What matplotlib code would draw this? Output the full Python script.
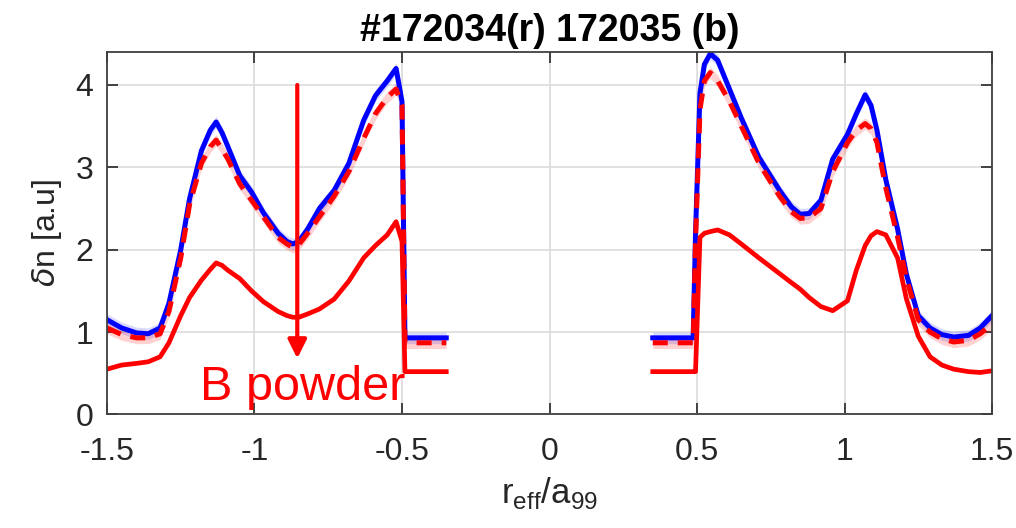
import numpy as np
import matplotlib
matplotlib.use('Agg')
import matplotlib.pyplot as plt

plt.rcParams['font.family'] = ['Liberation Sans', 'DejaVu Sans']
plt.rcParams['mathtext.fontset'] = 'custom'
plt.rcParams['mathtext.rm'] = 'Liberation Sans'

# left side of the profile (r_eff/a99 < 0)
r_left = [-1.5, -1.45, -1.40, -1.36, -1.32, -1.29, -1.25, -1.22, -1.18, -1.15,
          -1.13, -1.11, -1.09, -1.05, -1.01, -0.97, -0.92, -0.89, -0.87, -0.85,
          -0.82, -0.78, -0.73, -0.68, -0.63, -0.59, -0.55, -0.52, -0.50, -0.49,
          -0.42, -0.35]
blue_left = [1.15, 1.05, 0.99, 0.98, 1.05, 1.35, 2.0, 2.62, 3.2, 3.45,
             3.55, 3.42, 3.25, 2.9, 2.7, 2.45, 2.2, 2.1, 2.07, 2.1,
             2.25, 2.5, 2.72, 3.05, 3.57, 3.87, 4.05, 4.2, 3.8, 0.93,
             0.93, 0.93]
red_dash_left = [1.05, 0.97, 0.93, 0.93, 0.98, 1.25, 1.9, 2.55, 3.05, 3.25,
                 3.33, 3.22, 3.1, 2.8, 2.6, 2.4, 2.15, 2.07, 2.03, 2.06,
                 2.2, 2.4, 2.65, 2.95, 3.35, 3.65, 3.85, 3.95, 3.75, 0.87,
                 0.87, 0.87]
red_left = [0.55, 0.6, 0.62, 0.64, 0.7, 0.87, 1.2, 1.42, 1.63, 1.76,
            1.84, 1.81, 1.75, 1.65, 1.5, 1.37, 1.25, 1.2, 1.18, 1.18,
            1.22, 1.28, 1.4, 1.62, 1.9, 2.05, 2.18, 2.34, 2.1, 0.52,
            0.52, 0.52]

# right side of the profile (r_eff/a99 > 0)
r_right = [0.35, 0.42, 0.487, 0.495, 0.51, 0.525, 0.545, 0.57, 0.61, 0.65,
           0.71, 0.78, 0.82, 0.85, 0.88, 0.92, 0.96, 1.01, 1.04, 1.07,
           1.09, 1.11, 1.14, 1.18, 1.21, 1.25, 1.29, 1.33, 1.37, 1.42,
           1.46, 1.5]
blue_right = [0.93, 0.93, 0.93, 2.2, 3.9, 4.25, 4.38, 4.3, 3.95, 3.6,
              3.12, 2.72, 2.52, 2.43, 2.44, 2.6, 3.1, 3.4, 3.65, 3.88,
              3.75, 3.45, 2.85, 2.25, 1.7, 1.2, 1.05, 0.97, 0.94, 0.96,
              1.05, 1.2]
red_dash_right = [0.87, 0.87, 0.87, 2.1, 3.7, 4.05, 4.15, 4.05, 3.8, 3.5,
                  3.05, 2.65, 2.46, 2.38, 2.39, 2.5, 2.95, 3.3, 3.45, 3.53,
                  3.47, 3.3, 2.75, 2.15, 1.65, 1.15, 1.0, 0.92, 0.88, 0.9,
                  0.98, 1.1]
red_right = [0.52, 0.52, 0.52, 0.52, 2.15, 2.2, 2.22, 2.24, 2.18, 2.07,
             1.9, 1.71, 1.6, 1.52, 1.42, 1.31, 1.26, 1.38, 1.75, 2.05,
             2.17, 2.22, 2.18, 1.9, 1.4, 0.95, 0.7, 0.6, 0.55, 0.52,
             0.51, 0.53]

band_err = 0.07

x_ticks = [-1.5, -1, -0.5, 0, 0.5, 1, 1.5]
x_ticklabels = ['-1.5', '-1', '-0.5', '0', '0.5', '1', '1.5']
y_ticks = [0, 1, 2, 3, 4]

fig = plt.figure(figsize=(10.16, 5.28), dpi=100)
ax = fig.add_axes([0.1053, 0.215, 0.8711, 0.6865])

for r, b, rd, rs in [(r_left, blue_left, red_dash_left, red_left),
                     (r_right, blue_right, red_dash_right, red_right)]:
    r = np.array(r)
    b = np.array(b)
    rd = np.array(rd)
    ax.fill_between(r, b - band_err, b + band_err, color='blue', alpha=0.15, lw=0)
    ax.fill_between(r, rd - band_err, rd + band_err, color='red', alpha=0.18, lw=0)
    ax.plot(r, b, color='blue', lw=3.6, solid_joinstyle='round')
    ax.plot(r, rd, color='red', lw=3.6, linestyle=(0, (3, 2)))
    ax.plot(r, rs, color='red', lw=3.4, solid_joinstyle='round')

ax.annotate('', xy=(-0.855, 0.68), xytext=(-0.855, 4.0),
            arrowprops=dict(arrowstyle='-|>', color='red', lw=3,
                            mutation_scale=28, shrinkA=0, shrinkB=0))
ax.text(-1.185, 0.176, 'B powder', color='red', fontsize=35,
        ha='left', va='baseline')

ax.set_xlim(-1.5, 1.5)
ax.set_ylim(0, 4.4)
ax.set_xticks(x_ticks)
ax.set_xticklabels(x_ticklabels)
ax.set_yticks(y_ticks)
ax.grid(True, color='#dcdcdc', lw=1.2)
ax.set_axisbelow(True)
ax.tick_params(direction='in', length=8, width=1.2, top=True, right=True,
               labelsize=23, colors='#262626')
ax.tick_params(axis='x', pad=16)
ax.tick_params(axis='y', pad=10)
for s in ax.spines.values():
    s.set_color('#404040')
    s.set_linewidth(1.3)

ax.set_xlabel(r'r$_\mathregular{eff}$/a$_\mathregular{99}$', fontsize=25,
              color='#262626', labelpad=6)
ax.set_ylabel(r'$\delta$n [a.u]', fontsize=23, color='#262626', labelpad=8)
ax.set_title('#172034(r) 172035 (b)', fontsize=27, fontweight='bold',
             family=['Liberation Sans Narrow', 'Liberation Sans', 'DejaVu Sans'],
             pad=8)

fig.savefig('out.png', dpi=100)
